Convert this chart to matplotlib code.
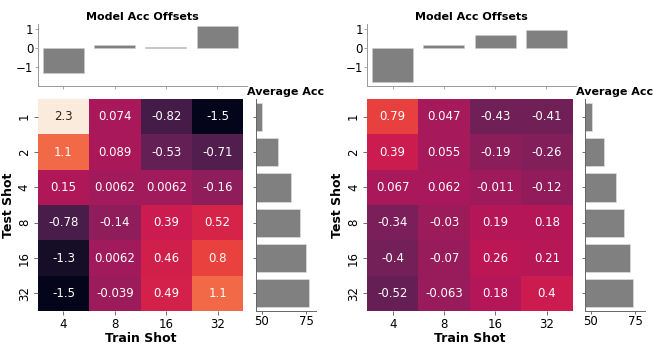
import matplotlib
matplotlib.use("Agg")
import matplotlib.pyplot as plt
import seaborn as sns
import numpy as np

# shots
train_shots = ["4", "8", "16", "32"]
test_shots = ["1", "2", "4", "8", "16", "32"]

# left model
left_grid = [
    [2.3, 0.074, -0.82, -1.5],
    [1.1, 0.089, -0.53, -0.71],
    [0.15, 0.0062, 0.0062, -0.16],
    [-0.78, -0.14, 0.39, 0.52],
    [-1.3, 0.0062, 0.46, 0.8],
    [-1.5, -0.039, 0.49, 1.1],
]
left_offsets = [-1.35, 0.14, 0.035, 1.16]
left_avg = [50.4, 59.3, 66.6, 71.8, 74.8, 76.5]

# right model
right_grid = [
    [0.79, 0.047, -0.43, -0.41],
    [0.39, 0.055, -0.19, -0.26],
    [0.067, 0.062, -0.011, -0.12],
    [-0.34, -0.03, 0.19, 0.18],
    [-0.4, -0.07, 0.26, 0.21],
    [-0.52, -0.063, 0.18, 0.4],
]
right_offsets = [-1.82, 0.14, 0.70, 0.98]
right_avg = [50.4, 57.4, 63.9, 68.8, 72.0, 73.9]

VMIN, VMAX = -1.52, 2.3
BAR = "#808080"


def panel(fig, x0, grid, offsets, avg):
    # heatmap
    ax = fig.add_axes([x0, 0.1165, 0.3096, 0.602])
    sns.heatmap(np.array(grid), ax=ax, cmap="rocket", vmin=VMIN, vmax=VMAX,
                annot=True, fmt=".2g", cbar=False,
                annot_kws={"fontsize": 8.5},
                xticklabels=train_shots, yticklabels=test_shots)
    ax.set_yticklabels(test_shots, rotation=90, va="center")
    ax.set_xticklabels(train_shots, rotation=0)
    ax.tick_params(labelsize=8.5, length=3, width=0.6, color="#555555", pad=2)
    ax.set_xlabel("Train Shot", fontsize=9, fontweight="bold", labelpad=1)
    ax.set_ylabel("Test Shot", fontsize=9, fontweight="bold", labelpad=2)

    # top offsets
    axt = fig.add_axes([x0, 0.7557, 0.315, 0.176])
    axt.bar(np.arange(len(offsets)), offsets, width=0.8, color=BAR,
            edgecolor="#cccccc", linewidth=0.4)
    axt.set_xlim(-0.5, 3.58)
    axt.set_ylim(-2.02, 1.27)
    axt.set_yticks([-1, 0, 1])
    axt.set_xticks(np.arange(len(offsets)))
    axt.set_xticklabels([])
    axt.tick_params(labelsize=8.5, length=2, width=0.6, color="#999999", pad=1)
    for s in ["top", "right"]:
        axt.spines[s].set_visible(False)
    for s in ["left", "bottom"]:
        axt.spines[s].set_color("#999999")
        axt.spines[s].set_linewidth(0.7)
    axt.set_title("Model Acc Offsets", fontsize=8, fontweight="bold", pad=3)

    # side average accuracy
    axs = fig.add_axes([x0 + 0.328, 0.1165, 0.0908, 0.602])
    ypos = np.arange(len(avg)) + 0.5
    axs.barh(ypos, avg, height=0.8, color=BAR, edgecolor="#dddddd", linewidth=0.5)
    axs.set_ylim(len(avg), 0)
    axs.set_xlim(46.5, 80.5)
    axs.set_xticks([50, 75])
    axs.set_yticks(ypos)
    axs.set_yticklabels([])
    axs.tick_params(labelsize=8.5, length=2, width=0.6, color="#555555", pad=1)
    for s in ["top", "right"]:
        axs.spines[s].set_visible(False)
    for s in ["left", "bottom"]:
        axs.spines[s].set_color("#666666")
        axs.spines[s].set_linewidth(0.7)
    axs.set_title("Average Acc", fontsize=8, fontweight="bold", pad=3)


fig = plt.figure(figsize=(6.64, 3.52), dpi=100)
panel(fig, 0.0568, left_grid, left_offsets, left_avg)
panel(fig, 0.5527, right_grid, right_offsets, right_avg)
fig.savefig("out.png", dpi=100)
